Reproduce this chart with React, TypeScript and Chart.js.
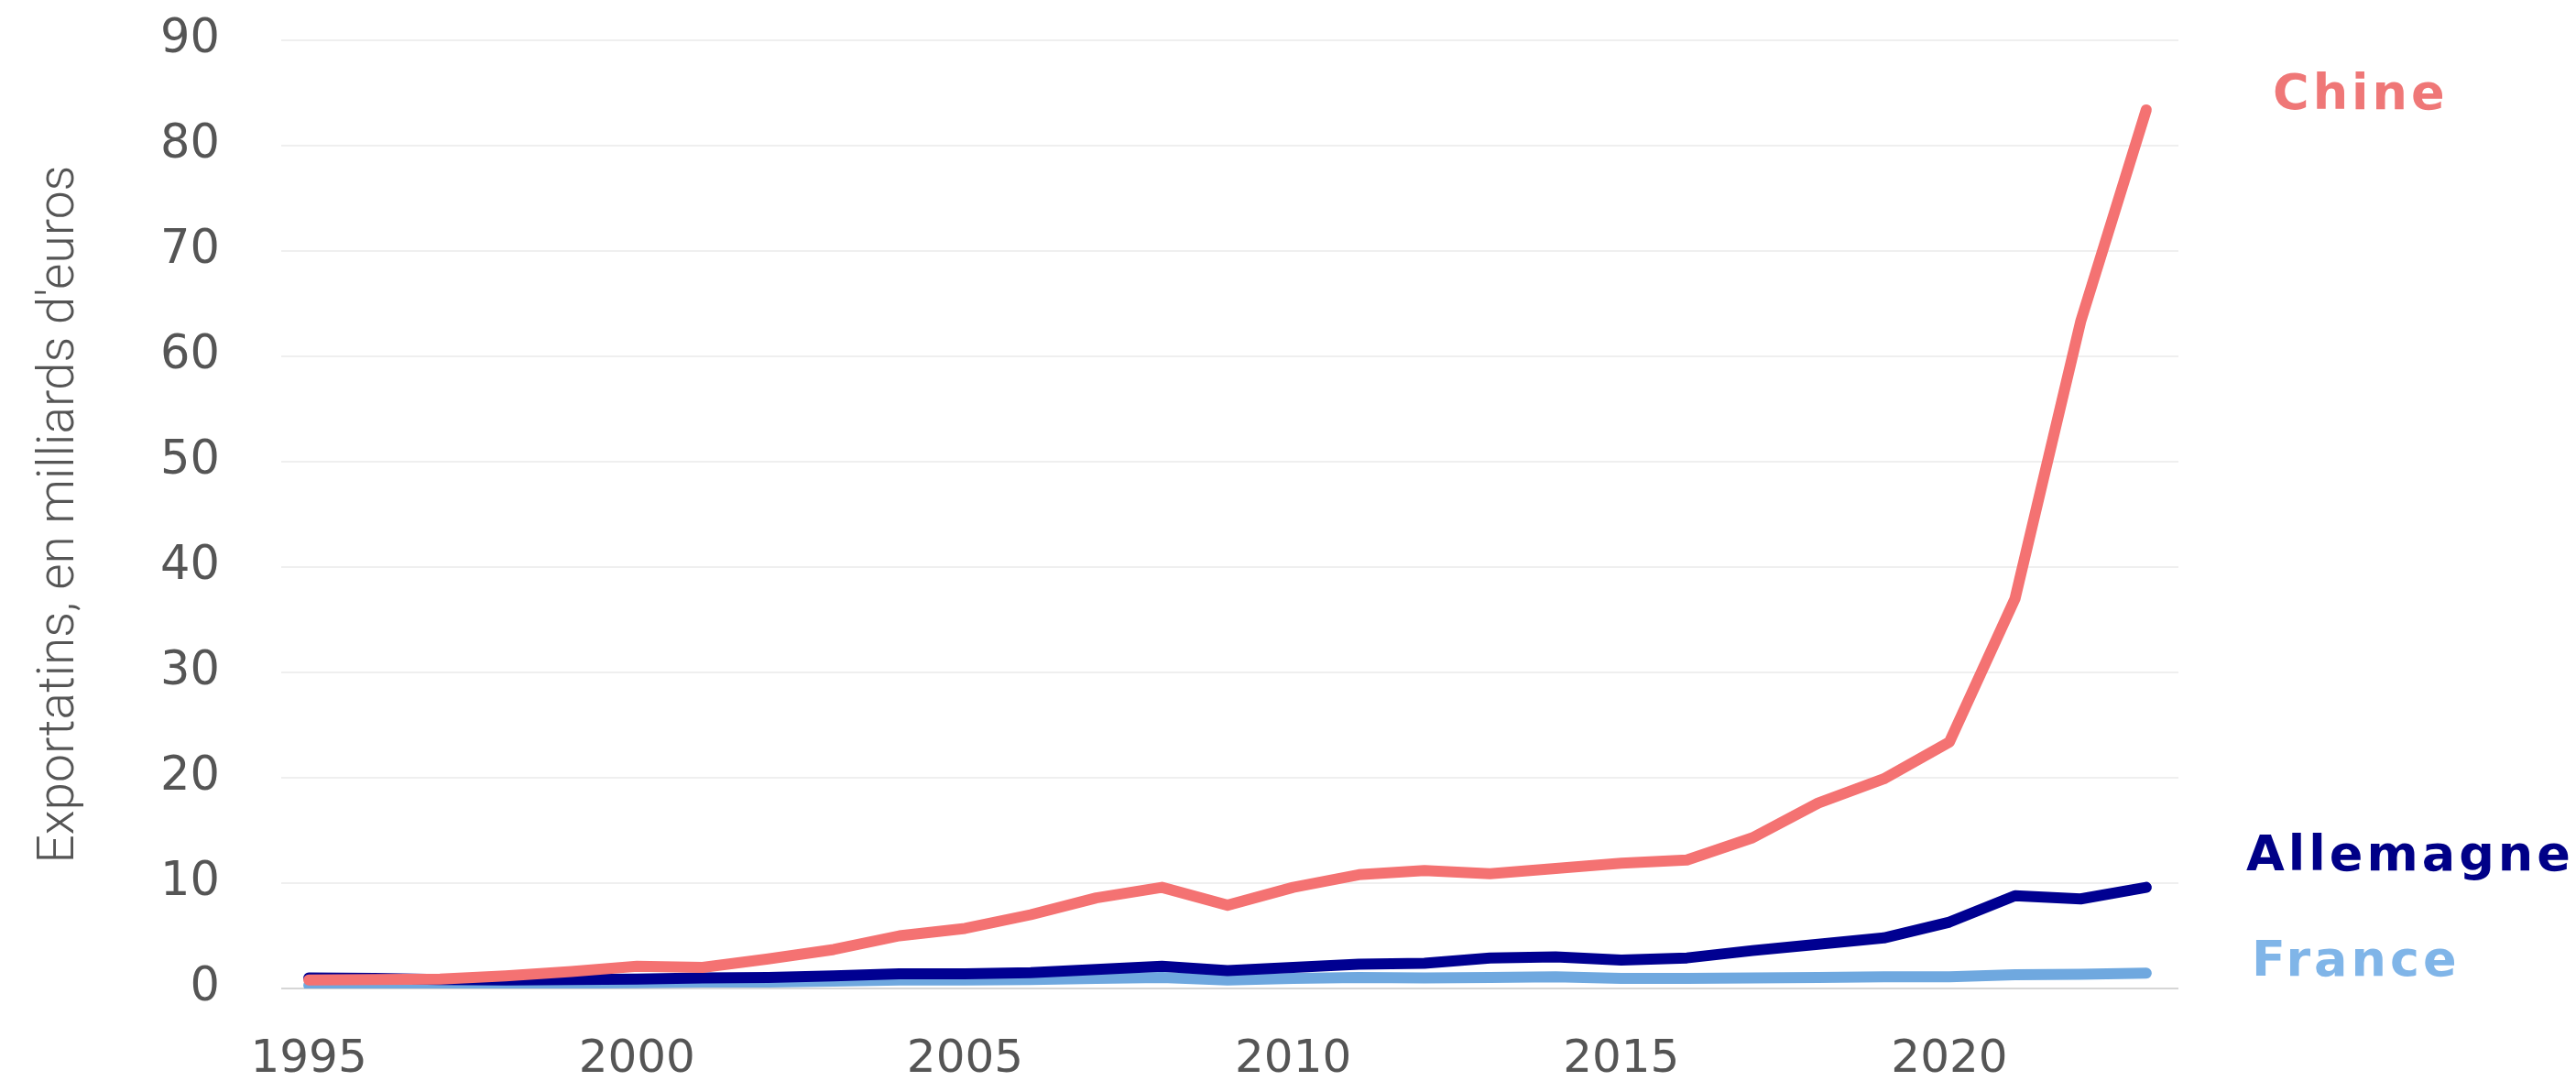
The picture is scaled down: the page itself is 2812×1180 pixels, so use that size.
import { useEffect, useRef } from "react";
import { Chart, registerables } from "chart.js";

Chart.register(...registerables);

const years = [
  1995, 1996, 1997, 1998, 1999, 2000, 2001, 2002, 2003, 2004,
  2005, 2006, 2007, 2008, 2009, 2010, 2011, 2012, 2013, 2014,
  2015, 2016, 2017, 2018, 2019, 2020, 2021, 2022, 2023,
];

const chine = [
  0.8, 0.85, 0.9, 1.2, 1.6, 2.1, 2.0, 2.8, 3.7, 5.0,
  5.7, 7.0, 8.6, 9.6, 7.9, 9.6, 10.8, 11.2, 10.9, 11.4,
  11.9, 12.2, 14.3, 17.6, 19.9, 23.4, 37.0, 63.3, 83.4,
];

const allemagne = [
  1.0, 0.95, 0.85, 0.8, 0.85, 0.9, 1.0, 1.05, 1.2, 1.4,
  1.4, 1.5, 1.8, 2.1, 1.7, 2.0, 2.3, 2.4, 2.9, 3.0,
  2.7, 2.9, 3.6, 4.2, 4.8, 6.3, 8.8, 8.5, 9.6,
];

const france = [
  0.3, 0.35, 0.4, 0.45, 0.5, 0.55, 0.6, 0.6, 0.7, 0.8,
  0.8, 0.85, 0.95, 1.05, 0.8, 0.95, 1.05, 1.0, 1.05, 1.1,
  0.95, 0.95, 1.0, 1.05, 1.1, 1.1, 1.3, 1.35, 1.45,
];

const xTickLabels = [1995, 2000, 2005, 2010, 2015, 2020];
const yTickStep = 10;
const yMax = 90;

const seriesNames = ["Chine", "Allemagne", "France"];
const seriesColors = ["#F47272", "#000091", "#6FA8DF"];
const labelColors = ["#EF7777", "#000087", "#80B5E8"];
// vertical anchor (in data units) of each end label's baseline
const labelValues = [83.5, 11.2, 1.2];
const labelOffsets = [103, 74, 80];

const yTitle = "Exportatins, en milliards d'euros";

const endLabels = {
  id: "endLabels",
  afterDatasetsDraw(chart: any) {
    const { ctx, chartArea, scales } = chart;
    ctx.save();
    ctx.font = "bold 54px 'DejaVu Sans'";
    try {
      (ctx as any).letterSpacing = "4px";
    } catch (e) {}
    ctx.textBaseline = "alphabetic";
    ctx.textAlign = "left";
    seriesNames.forEach((name, i) => {
      ctx.fillStyle = labelColors[i];
      ctx.fillText(
        name,
        chartArea.right + labelOffsets[i],
        scales.y.getPixelForValue(labelValues[i])
      );
    });
    ctx.restore();
  },
};

export default function App() {
  const canvasRef = useRef<HTMLCanvasElement | null>(null);

  useEffect(() => {
    const canvas = canvasRef.current;
    if (!canvas) return;
    const series = [chine, allemagne, france];
    const chart = new Chart(canvas, {
      type: "line",
      data: {
        datasets: series.map((vals, i) => ({
          label: seriesNames[i],
          data: years.map((x, j) => ({ x, y: vals[j] })),
          borderColor: seriesColors[i],
          backgroundColor: seriesColors[i],
          borderWidth: 12,
          borderCapStyle: "round",
          borderJoinStyle: "round",
          pointRadius: 0,
          tension: 0,
          fill: false,
        })),
      },
      options: {
        responsive: false,
        animation: false,
        devicePixelRatio: 1,
        layout: { padding: { left: 33, right: 434, top: 44, bottom: 0 } },
        plugins: {
          legend: { display: false },
          tooltip: { enabled: false },
        },
        scales: {
          x: {
            type: "linear",
            min: 1994.58,
            max: 2023.49,
            afterBuildTicks: (scale: any) => {
              scale.ticks = xTickLabels.map((v) => ({ value: v }));
            },
            afterFit: (scale: any) => {
              scale.height = 101;
              scale.paddingLeft = 0;
              scale.paddingRight = 0;
            },
            ticks: {
              autoSkip: false,
              maxRotation: 0,
              padding: 48,
              color: "#555555",
              font: { family: "'DejaVu Sans'", size: 50 },
              callback: (v: any) => String(v),
            },
            grid: { display: false, drawTicks: false },
            border: { display: false },
          },
          y: {
            type: "linear",
            position: "left",
            min: 0,
            max: yMax,
            afterFit: (scale: any) => {
              scale.width = 274;
              scale.paddingTop = 0;
              scale.paddingBottom = 0;
            },
            ticks: {
              stepSize: yTickStep,
              padding: 67,
              color: "#555555",
              font: { family: "'DejaVu Sans'", size: 51 },
            },
            grid: {
              drawTicks: false,
              lineWidth: 2,
              color: (c: any) => (c.tick && c.tick.value === 0 ? "#d6d6d6" : "#efefef"),
            },
            border: { display: false },
            title: {
              display: true,
              text: yTitle,
              color: "#555555",
              font: { family: "Roboto", size: 55, weight: "300" },
              padding: { top: 0, bottom: 20 },
            },
          },
        },
      },
      plugins: [endLabels],
    } as any);
    return () => chart.destroy();
  }, []);

  return (
    <div style={{ position: "absolute", left: 0, top: 0, width: 2812, height: 1180, background: "#ffffff" }}>
      <canvas ref={canvasRef} width={2812} height={1180} style={{ display: "block" }} />
    </div>
  );
}
